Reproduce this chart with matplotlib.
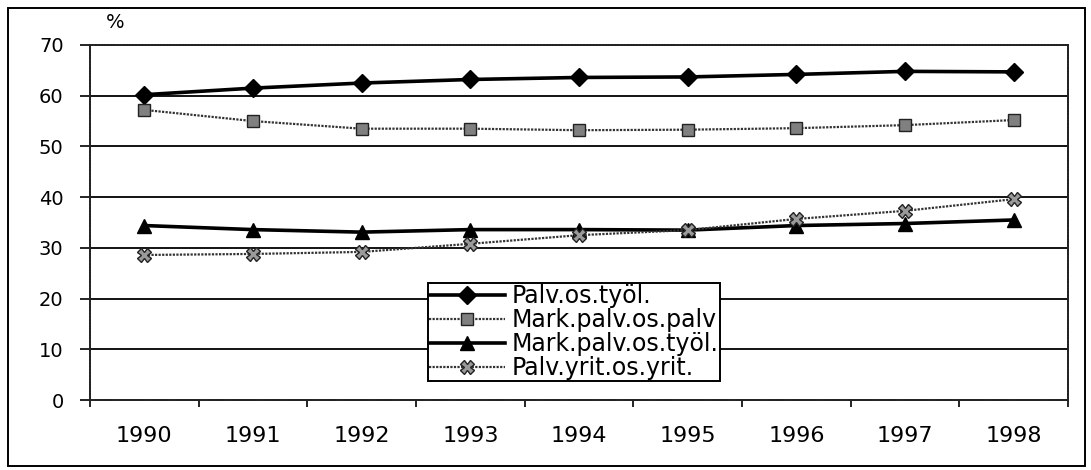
import matplotlib
matplotlib.use("Agg")
import matplotlib.pyplot as plt
from matplotlib.patches import Rectangle

years = ["1990", "1991", "1992", "1993", "1994", "1995", "1996", "1997", "1998"]
palv_os_tyol = [60.2, 61.5, 62.5, 63.2, 63.6, 63.7, 64.2, 64.8, 64.7]
mark_palv_os_palv = [57.2, 55.0, 53.5, 53.5, 53.2, 53.3, 53.6, 54.2, 55.2]
mark_palv_os_tyol = [34.4, 33.6, 33.1, 33.6, 33.6, 33.5, 34.4, 34.8, 35.5]
palv_yrit_os_yrit = [28.6, 28.8, 29.2, 30.8, 32.5, 33.5, 35.7, 37.3, 39.6]
yticks = [0, 10, 20, 30, 40, 50, 60, 70]

plt.rcParams["font.family"] = ["DejaVu Sans"]

fig = plt.figure(figsize=(10.91, 4.70), dpi=100)
ax = fig.add_axes([90 / 1091, 1 - 400 / 470, (1068 - 90) / 1091, (400 - 45) / 470])

x = list(range(len(years)))
ax.plot(x, palv_os_tyol, color="black", linewidth=2.6, marker="D", markersize=9,
        label="Palv.os.työl.")
ax.plot(x, mark_palv_os_palv, color="#333333", linewidth=1.6, linestyle=(0, (1, 0.6)),
        marker="s", markersize=9, markerfacecolor="#808080", markeredgecolor="#222222",
        label="Mark.palv.os.palv")
ax.plot(x, mark_palv_os_tyol, color="black", linewidth=2.6, marker="^", markersize=10,
        label="Mark.palv.os.työl.")
ax.plot(x, palv_yrit_os_yrit, color="#333333", linewidth=1.6, linestyle=(0, (1, 0.6)),
        marker="X", markersize=10, markerfacecolor="#9a9a9a", markeredgecolor="#222222",
        label="Palv.yrit.os.yrit.")

ax.set_ylim(0, 70)
ax.set_xlim(-0.5, len(years) - 0.5)
ax.set_yticks(yticks)
ax.set_yticklabels([str(v) for v in yticks], fontsize=14)
ax.set_xticks(x)
ax.set_xticklabels(years, fontsize=16)
ax.tick_params(axis="x", which="major", length=0, pad=19)
ax.set_xticks([i - 0.5 for i in range(len(years) + 1)], minor=True)
ax.tick_params(axis="x", which="minor", length=5, width=1.2, direction="out")
ax.tick_params(axis="y", length=7, width=1.2, direction="out", pad=12)

for v in yticks[1:-1]:
    ax.axhline(v, color="black", linewidth=1.3, zorder=0)

for side in ["top", "left", "right", "bottom"]:
    ax.spines[side].set_linestyle((0, (1, 0.6)))
    ax.spines[side].set_linewidth(1.4)
    ax.spines[side].set_color("#222222")

leg = ax.legend(loc="lower left", bbox_to_anchor=(0.3456, 0.0535), fontsize=17,
                frameon=True, fancybox=False, edgecolor="black", handlelength=3.2,
                borderpad=0.05, labelspacing=0.0, handletextpad=0.3, borderaxespad=0,
                framealpha=1)
leg.get_frame().set_linewidth(1.4)

fig.text(115 / 1091, 1 - 23 / 470, "%", fontsize=14, ha="center", va="center")

fig.patches.append(Rectangle((8 / 1091, 4 / 470), (1085 - 8) / 1091, (464 - 6) / 470,
                             transform=fig.transFigure, fill=False, edgecolor="black",
                             linewidth=1.4))

fig.savefig("out.png", dpi=100)
